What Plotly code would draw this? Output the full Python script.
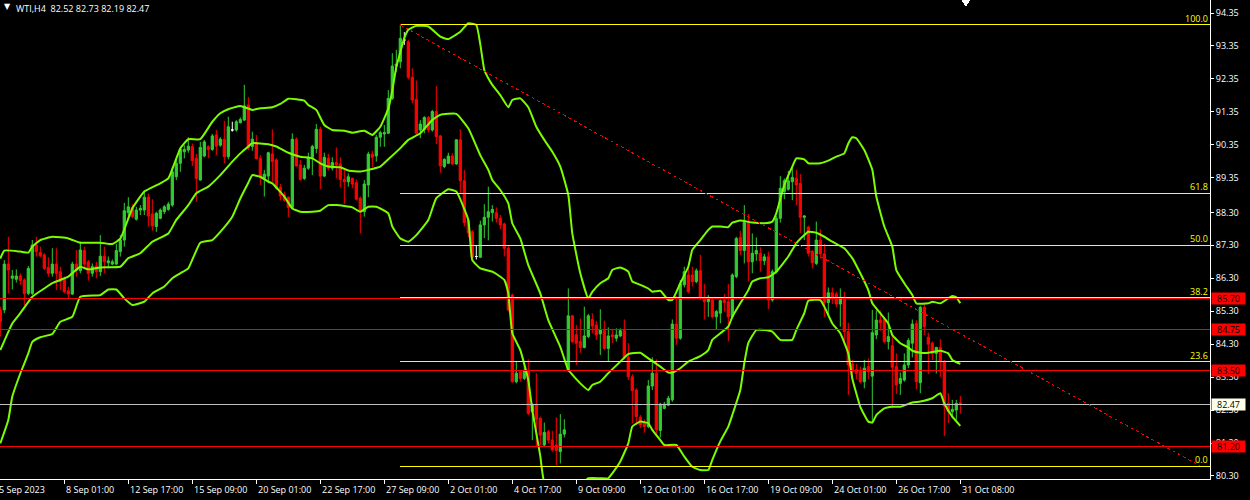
import plotly.graph_objects as go

# ---------------- data ----------------
symbol_title = "WTI,H4  82.52 82.73 82.19 82.47"

opens = [85.34, 85.34, 86.73, 86.30, 86.27, 86.37, 86.25, 85.84, 85.84, 87.31,
         87.08, 87.01, 86.63, 86.45, 86.73, 86.50, 86.30, 85.92, 85.82, 86.73,
         86.53, 87.14, 86.80, 86.45, 86.67, 86.50, 86.97, 86.77, 86.73, 86.73,
         87.11, 87.46, 88.29, 88.45, 88.09, 88.37, 88.37, 88.76, 88.25, 87.87,
         88.12, 88.32, 88.39, 88.52, 89.38, 89.79, 90.14, 90.19, 90.29, 89.94,
         89.28, 90.01, 90.29, 90.21, 90.65, 90.34, 90.52, 89.99, 90.80, 90.80,
         91.02, 91.10, 91.56, 90.30, 90.42, 89.94, 89.33, 89.40, 90.07, 89.89,
         89.06, 88.83, 88.76, 88.45, 90.52, 89.74, 89.33, 89.64, 89.97, 90.24,
         90.82, 89.40, 89.94, 89.64, 89.81, 89.77, 89.30, 89.23, 89.33, 89.20,
         88.73, 88.32, 89.13, 90.07, 90.01, 90.58, 90.68, 90.70, 91.76, 92.74,
         92.87, 93.53, 93.48, 92.40, 91.73, 90.80, 90.82, 91.18, 90.80, 91.36,
         90.62, 89.69, 89.79, 90.01, 89.77, 90.50, 89.26, 88.05, 87.71, 86.96,
         86.94, 87.92, 88.15, 88.29, 88.29, 88.12, 87.95, 87.21, 85.79, 83.16,
         83.46, 83.26, 83.50, 82.25, 82.48, 82.05, 81.24, 81.64, 81.39, 81.24,
         81.04, 81.57, 83.50, 85.16, 84.58, 84.38, 84.20, 84.53, 85.05, 84.88,
         84.61, 84.71, 84.17, 84.58, 84.48, 84.55, 84.71, 83.90, 83.31, 82.91,
         82.08, 81.92, 81.80, 83.03, 83.42, 81.68, 82.35, 82.45, 82.61, 84.91,
         84.48, 86.10, 86.40, 86.40, 86.20, 86.53, 85.69, 85.59, 85.64, 85.13,
         85.24, 85.64, 85.59, 85.13, 86.35, 87.54, 87.14, 87.97, 86.80, 87.04,
         87.06, 86.83, 86.95, 85.64, 86.50, 88.12, 88.93, 89.00, 89.23, 89.33,
         89.18, 88.15, 87.85, 87.11, 86.75, 87.46, 87.04, 85.56, 85.86, 85.82,
         85.52, 85.72, 84.68, 83.70, 83.52, 83.47, 83.16, 83.62, 83.33, 84.58,
         85.03, 85.05, 84.38, 84.25, 83.62, 83.11, 83.21, 83.67, 84.33, 84.93,
         83.13, 85.42, 84.51, 84.33, 84.02, 84.20, 83.77, 82.50, 82.25, 82.30,
         82.52]
highs = [85.44, 86.85, 87.56, 86.55, 86.57, 86.45, 86.30, 86.67, 87.46, 87.56,
         87.26, 87.06, 86.94, 87.21, 87.21, 86.65, 86.35, 86.04, 86.80, 87.16,
         87.41, 87.26, 86.85, 86.75, 86.80, 87.61, 87.26, 86.96, 86.87, 87.34,
         87.61, 88.59, 88.76, 88.55, 88.47, 88.52, 88.96, 88.88, 88.70, 88.32,
         88.42, 88.52, 88.62, 89.69, 89.94, 90.27, 90.34, 90.58, 90.39, 90.07,
         90.44, 90.50, 90.34, 90.68, 90.80, 90.58, 91.08, 91.20, 91.05, 91.10,
         91.18, 92.17, 91.80, 90.75, 90.65, 90.04, 89.59, 90.14, 90.82, 89.94,
         89.16, 88.93, 88.78, 90.70, 90.58, 89.89, 89.74, 90.11, 90.35, 90.98,
         90.90, 90.11, 90.07, 89.97, 90.27, 89.97, 89.64, 89.48, 89.36, 89.30,
         88.78, 89.28, 90.14, 90.17, 90.65, 90.78, 90.95, 92.01, 93.13, 93.23,
         93.99, 93.77, 93.53, 92.67, 92.30, 91.10, 91.22, 91.22, 91.41, 92.13,
         90.65, 89.94, 90.11, 90.09, 90.52, 90.82, 89.59, 88.12, 87.76, 87.31,
         88.05, 88.55, 89.08, 88.52, 88.45, 88.22, 87.99, 87.31, 85.84, 83.77,
         83.52, 83.72, 83.84, 82.50, 83.42, 82.10, 81.92, 81.70, 81.67, 82.08,
         82.18, 82.02, 85.99, 85.19, 84.88, 85.08, 85.44, 85.22, 85.24, 85.01,
         85.36, 85.01, 84.81, 84.73, 84.78, 84.78, 85.05, 84.33, 83.39, 82.96,
         82.15, 82.02, 83.21, 83.90, 83.84, 82.52, 82.55, 82.73, 85.05, 85.76,
         86.25, 86.65, 86.65, 86.65, 86.60, 87.01, 86.13, 85.79, 85.66, 85.34,
         85.66, 85.82, 86.13, 86.45, 87.56, 87.74, 88.52, 88.25, 87.66, 87.54,
         87.24, 87.04, 87.11, 86.57, 88.19, 89.40, 89.33, 89.56, 89.67, 89.59,
         89.46, 88.22, 87.89, 87.16, 88.02, 87.79, 87.34, 86.02, 86.02, 85.89,
         85.99, 85.89, 84.95, 83.82, 83.70, 83.62, 83.82, 83.87, 85.34, 85.32,
         85.32, 85.11, 85.26, 84.58, 84.02, 83.44, 84.02, 84.48, 85.05, 85.03,
         85.46, 85.52, 84.65, 84.38, 84.22, 84.45, 83.82, 82.81, 82.61, 82.61,
         82.73]
lows = [84.53, 85.24, 85.84, 85.96, 86.17, 86.10, 85.49, 85.79, 85.79, 86.96,
        86.94, 86.55, 86.35, 86.35, 85.94, 85.94, 85.84, 85.69, 85.79, 86.35,
        86.45, 86.65, 86.23, 86.35, 86.30, 86.37, 86.45, 86.60, 86.70, 86.70,
        86.96, 87.26, 88.09, 88.12, 88.05, 88.22, 88.22, 87.87, 87.74, 87.71,
        88.09, 88.25, 88.35, 88.47, 89.28, 89.53, 89.94, 90.11, 89.71, 88.62,
        89.26, 89.97, 89.94, 90.17, 90.04, 90.29, 89.79, 89.91, 90.75, 90.75,
        91.00, 91.07, 90.19, 90.17, 89.91, 89.13, 88.78, 89.18, 89.23, 88.98,
        88.66, 88.62, 88.15, 88.39, 89.69, 89.26, 89.28, 89.59, 89.43, 90.09,
        89.00, 89.38, 89.57, 89.57, 89.33, 89.06, 88.55, 89.08, 89.03, 88.66,
        87.66, 88.17, 88.76, 89.67, 89.84, 90.29, 90.29, 90.68, 91.71, 92.57,
        92.67, 93.38, 92.34, 91.61, 90.65, 90.55, 90.70, 90.72, 90.75, 90.37,
        89.50, 89.64, 89.77, 89.74, 89.74, 88.88, 87.87, 87.54, 86.87, 86.87,
        86.91, 87.52, 87.45, 88.02, 87.99, 87.79, 86.96, 85.29, 83.13, 83.11,
        83.16, 83.21, 82.15, 81.39, 81.19, 81.24, 81.21, 81.29, 81.04, 80.63,
        80.68, 81.47, 83.46, 84.33, 83.67, 84.04, 84.17, 84.48, 84.63, 84.43,
        83.97, 84.12, 83.77, 84.33, 84.38, 84.51, 83.84, 83.21, 81.90, 81.85,
        81.75, 81.61, 81.75, 82.91, 81.50, 81.47, 82.32, 82.42, 82.55, 84.28,
        84.43, 86.02, 85.84, 86.05, 86.15, 85.64, 85.05, 85.13, 85.08, 84.75,
        84.93, 85.29, 84.38, 85.08, 86.30, 87.01, 86.75, 86.20, 86.45, 86.83,
        86.50, 86.70, 85.36, 85.59, 86.45, 87.99, 88.70, 88.96, 88.67, 88.52,
        87.68, 87.46, 86.96, 86.60, 86.70, 86.90, 85.13, 85.18, 85.52, 85.42,
        84.83, 84.27, 82.76, 83.33, 83.23, 83.11, 82.96, 83.23, 81.90, 84.45,
        84.71, 84.33, 84.14, 82.35, 82.79, 82.76, 83.16, 83.57, 83.90, 82.93,
        82.81, 84.58, 83.39, 83.82, 83.41, 83.31, 81.51, 81.90, 82.05, 82.00,
        82.19]
closes = [84.98, 86.73, 86.55, 86.37, 86.37, 86.23, 85.84, 86.60, 87.31, 87.11,
          86.98, 86.60, 86.45, 86.73, 86.45, 86.20, 85.89, 85.82, 86.73, 86.53,
          87.16, 86.73, 86.45, 86.65, 86.50, 86.97, 86.80, 86.83, 86.80, 87.14,
          87.46, 88.35, 88.47, 88.17, 88.37, 88.42, 88.76, 88.19, 87.89, 88.27,
          88.37, 88.47, 88.55, 89.53, 89.79, 90.21, 90.21, 90.31, 89.87, 89.33,
          90.27, 90.44, 90.21, 90.62, 90.31, 90.52, 89.99, 90.90, 90.80, 91.05,
          91.12, 91.53, 90.25, 90.52, 89.93, 89.38, 89.46, 90.11, 89.84, 89.03,
          88.80, 88.67, 88.45, 90.52, 89.71, 89.30, 89.64, 89.97, 90.30, 90.82,
          89.40, 89.97, 89.64, 89.81, 89.74, 89.30, 89.23, 89.38, 89.16, 88.70,
          88.32, 89.16, 90.07, 89.97, 90.58, 90.72, 90.72, 91.76, 92.74, 92.80,
          93.58, 93.53, 92.40, 91.71, 90.70, 90.98, 91.18, 90.80, 91.36, 90.60,
          89.71, 89.91, 90.01, 89.77, 90.50, 89.26, 87.99, 87.68, 86.94, 86.96,
          87.92, 88.15, 88.32, 88.39, 88.12, 87.92, 87.21, 85.34, 83.16, 83.42,
          83.26, 83.50, 82.20, 82.48, 82.02, 81.54, 81.62, 81.39, 81.09, 81.07,
          81.57, 81.70, 85.16, 84.38, 84.33, 84.20, 84.55, 85.16, 84.85, 84.58,
          84.73, 84.17, 84.55, 84.53, 84.58, 84.71, 83.90, 83.31, 82.89, 82.10,
          81.85, 81.80, 83.03, 83.42, 81.70, 82.48, 82.48, 82.66, 84.91, 84.48,
          86.13, 86.50, 85.89, 86.20, 86.53, 85.69, 85.59, 85.72, 85.13, 85.29,
          85.62, 85.56, 85.13, 86.40, 87.51, 87.14, 87.99, 86.80, 87.06, 87.14,
          86.83, 86.95, 85.64, 86.50, 88.12, 89.03, 89.26, 89.26, 89.36, 89.13,
          88.15, 88.19, 87.06, 86.77, 87.46, 87.04, 85.56, 85.86, 85.72, 85.52,
          85.72, 84.68, 83.67, 83.47, 83.42, 83.16, 83.57, 83.47, 84.65, 85.03,
          84.95, 84.38, 84.53, 83.60, 83.06, 83.26, 83.67, 84.41, 84.91, 83.16,
          85.42, 84.83, 84.30, 84.02, 84.20, 83.77, 82.42, 82.25, 82.32, 82.50,
          82.47]

# Bollinger-style envelope, read at sampled bars
upper_bar = [0, 1, 5, 7, 8, 10, 13, 17, 20, 25, 28, 30, 33, 36, 40, 42, 45, 47, 50, 53,
             55, 57, 60, 63, 65, 68, 70, 72, 76, 77, 79, 81, 83, 86, 88, 91, 93, 95, 97, 98,
             99, 101, 102, 104, 107, 110, 112, 115, 117, 119, 120, 121, 122, 123, 125, 127, 128, 130, 132, 134,
             136, 138, 140, 142, 143, 145, 147, 148, 150, 152, 153, 155, 157, 158, 160, 162, 163, 165, 167, 168,
             170, 172, 173, 175, 177, 178, 180, 182, 183, 185, 188, 191, 193, 194, 196, 198, 199, 201, 202, 205,
             207, 209, 211, 212, 213, 214, 216, 218, 219, 221, 223, 224, 226, 228, 229, 232, 233, 235, 238, 239,
             240]
upper_val = [86.90, 87.14, 87.11, 87.08, 87.26, 87.46, 87.56, 87.51, 87.38, 87.38, 87.34, 87.50, 88.42, 88.93, 89.18, 89.33, 90.24, 90.52, 90.52, 91.05,
             91.31, 91.43, 91.53, 91.41, 91.46, 91.49, 91.59, 91.75, 91.69, 91.56, 91.41, 90.95, 90.80, 90.78, 90.72, 90.78, 90.65, 90.90, 91.45, 92.00,
             92.71, 93.59, 93.84, 93.96, 93.94, 93.63, 93.56, 93.78, 94.04, 93.99, 93.40, 92.62, 92.37, 92.17, 91.86, 91.49, 91.71, 91.76, 91.49, 90.90,
             90.50, 90.14, 89.69, 88.83, 87.66, 86.45, 85.69, 85.89, 86.15, 86.30, 86.55, 86.63, 86.50, 86.20, 86.10, 85.99, 85.89, 85.92, 85.64, 85.64,
             86.15, 86.65, 87.16, 87.46, 87.77, 87.87, 87.87, 87.85, 87.99, 88.05, 87.99, 87.97, 88.02, 88.27, 89.13, 89.69, 89.94, 89.91, 89.79, 89.79,
             89.87, 89.99, 90.09, 90.39, 90.58, 90.55, 90.19, 89.59, 88.78, 87.87, 87.26, 86.55, 86.15, 85.79, 85.54, 85.54, 85.59, 85.54, 85.76, 85.72,
             85.54]

middle_bar = [0, 3, 5, 8, 11, 13, 17, 20, 22, 25, 30, 32, 35, 38, 42, 44, 47, 49, 52, 55,
              58, 60, 62, 63, 67, 69, 72, 75, 78, 80, 82, 85, 87, 90, 92, 95, 97, 100, 102, 105,
              108, 110, 114, 117, 120, 122, 123, 125, 127, 128, 130, 132, 135, 137, 140, 142, 145, 147, 148, 150,
              152, 155, 157, 160, 162, 165, 167, 168, 170, 172, 175, 177, 178, 180, 182, 183, 185, 187, 188, 190,
              192, 194, 197, 199, 201, 202, 204, 206, 208, 211, 213, 215, 217, 218, 220, 222, 223, 225, 227, 228,
              230, 232, 235, 237, 238, 240]
middle_val = [84.12, 84.93, 85.24, 85.74, 85.99, 86.15, 86.35, 86.65, 86.57, 86.63, 86.65, 86.91, 87.06, 87.41, 87.66, 88.07, 88.52, 88.88, 89.08, 89.43,
              89.84, 90.09, 90.30, 90.40, 90.37, 90.30, 90.11, 89.99, 89.94, 89.79, 89.69, 89.67, 89.57, 89.54, 89.59, 89.69, 89.91, 90.25, 90.50, 90.70,
              91.10, 91.26, 91.29, 90.85, 90.03, 89.59, 89.28, 88.98, 88.57, 87.97, 87.51, 86.70, 85.84, 85.03, 84.22, 83.52, 83.11, 82.91, 83.06, 83.16,
              83.42, 83.77, 84.00, 84.04, 83.87, 83.62, 83.44, 83.44, 83.57, 83.77, 83.94, 84.12, 84.43, 84.63, 84.83, 85.13, 85.54, 85.94, 86.20, 86.30,
              86.33, 86.50, 86.96, 87.36, 87.61, 87.71, 87.68, 87.56, 87.41, 87.21, 86.91, 86.45, 85.94, 85.54, 85.24, 84.93, 84.58, 84.33, 84.20, 84.10,
              84.04, 84.04, 84.10, 84.02, 83.82, 83.70]

lower_bar = [0, 2, 3, 5, 7, 8, 10, 13, 15, 18, 20, 25, 27, 29, 31, 33, 36, 38, 41, 43,
             45, 47, 50, 53, 55, 58, 60, 62, 63, 65, 67, 68, 71, 73, 75, 78, 80, 82, 84, 88,
             90, 92, 94, 97, 98, 100, 102, 104, 107, 109, 112, 114, 117, 118, 120, 123, 126, 127, 128, 130,
             132, 133, 134, 135, 136, 139, 142, 145, 147, 150, 152, 153, 155, 157, 158, 160, 162, 163, 165, 166,
             169, 171, 173, 175, 177, 178, 180, 182, 183, 185, 186, 187, 189, 191, 193, 195, 198, 199, 201, 202,
             205, 206, 208, 210, 212, 213, 215, 217, 218, 219, 221, 223, 225, 228, 230, 233, 235, 236, 238, 240]
lower_val = [81.29, 82.00, 82.71, 83.41, 84.02, 84.37, 84.51, 84.61, 84.98, 85.13, 85.74, 85.79, 85.96, 85.96, 85.69, 85.49, 85.59, 85.84, 86.05, 86.30,
             86.45, 86.60, 87.38, 87.46, 87.71, 88.17, 88.72, 89.20, 89.43, 89.38, 89.23, 89.18, 88.78, 88.42, 88.32, 88.32, 88.35, 88.52, 88.52, 88.45,
             88.32, 88.47, 88.47, 88.27, 87.87, 87.51, 87.41, 87.61, 88.07, 88.73, 89.00, 88.93, 88.07, 86.85, 86.60, 86.50, 86.25, 85.84, 84.63, 84.12,
             83.21, 82.30, 81.60, 80.90, 80.10, 79.80, 79.75, 80.00, 80.23, 80.23, 80.23, 80.38, 80.74, 81.29, 81.80, 81.95, 81.90, 81.70, 81.39, 81.24,
             81.24, 80.89, 80.58, 80.48, 80.48, 80.79, 81.35, 81.80, 82.15, 82.91, 83.72, 84.33, 84.73, 84.73, 84.68, 84.43, 84.43, 84.73, 85.24, 85.62,
             85.64, 85.44, 84.93, 84.63, 84.02, 83.26, 82.40, 81.95, 81.92, 82.15, 82.35, 82.40, 82.40, 82.53, 82.56, 82.66, 82.81, 82.50, 82.10, 81.82]

# Fibonacci retracement (swing high -> swing low)
fib_high = 93.99
fib_low = 80.60
fib_start_bar = 100
fib_end_bar = 300
fib_levels = [0.0, 23.6, 38.2, 50.0, 61.8, 100.0]

# horizontal levels
red_levels = [85.70, 84.75, 83.50, 81.20]
bid_price = 82.47

price_ticks = [94.35, 93.35, 92.35, 91.35, 90.35, 89.35, 88.30, 87.30, 86.30,
               85.30, 84.30, 83.30, 82.30, 81.30, 80.30]
time_tick_bars = [16, 32, 48, 64, 80, 96, 112, 128, 144, 160, 176, 192, 208, 224, 240]
time_tick_text = ["8 Sep 01:00", "12 Sep 17:00", "15 Sep 09:00", "20 Sep 01:00",
                  "22 Sep 17:00", "27 Sep 09:00", "2 Oct 01:00", "4 Oct 17:00",
                  "9 Oct 09:00", "12 Oct 01:00", "16 Oct 17:00", "19 Oct 09:00",
                  "24 Oct 01:00", "26 Oct 17:00", "31 Oct 08:00"]
first_date_label = "5 Sep 2023"

# ---------------- styling ----------------
BG = "#000000"
FG = "#ffffff"
UP = "#32cd32"
DOWN = "#ff0000"
BAND = "#7cfc00"
FIB = "#ffff00"
FONT = "Open Sans"
FS = 9

X_MIN, X_MAX = -0.075, 302.425
Y_MIN, Y_MAX = 80.208, 94.745

bars = list(range(len(opens)))
doji = [i for i in bars if opens[i] == closes[i]]
normal = [i for i in bars if opens[i] != closes[i]]

fig = go.Figure()

for bx, bv in [(upper_bar, upper_val), (middle_bar, middle_val), (lower_bar, lower_val)]:
    fig.add_trace(go.Scatter(x=bx, y=bv, mode="lines",
                             line=dict(color=BAND, width=2, shape="spline", smoothing=0.4),
                             hoverinfo="skip", showlegend=False))

fig.add_trace(go.Candlestick(
    x=[bars[i] for i in normal],
    open=[opens[i] for i in normal], high=[highs[i] for i in normal],
    low=[lows[i] for i in normal], close=[closes[i] for i in normal],
    increasing=dict(line=dict(color=UP, width=1), fillcolor=UP),
    decreasing=dict(line=dict(color=DOWN, width=1), fillcolor=DOWN),
    whiskerwidth=0, showlegend=False, hoverinfo="skip"))
fig.add_trace(go.Candlestick(
    x=[bars[i] for i in doji],
    open=[opens[i] for i in doji], high=[highs[i] for i in doji],
    low=[lows[i] for i in doji], close=[closes[i] for i in doji],
    increasing=dict(line=dict(color=FG, width=1), fillcolor=FG),
    decreasing=dict(line=dict(color=FG, width=1), fillcolor=FG),
    whiskerwidth=0, showlegend=False, hoverinfo="skip"))

shapes = []
for lv in red_levels:
    shapes.append(dict(type="line", xref="paper", yref="y", x0=0, x1=1, y0=lv, y1=lv,
                       line=dict(color=DOWN, width=1)))
shapes.append(dict(type="line", xref="paper", yref="y", x0=0, x1=1, y0=bid_price, y1=bid_price,
                   line=dict(color="#c0c0c0", width=1)))
for lvl in fib_levels:
    p = fib_low + (fib_high - fib_low) * lvl / 100.0
    shapes.append(dict(type="line", xref="x", yref="y", x0=fib_start_bar, x1=X_MAX, y0=p, y1=p,
                       line=dict(color=FIB, width=1)))
shapes.append(dict(type="line", xref="x", yref="y", x0=fib_start_bar, x1=fib_end_bar,
                   y0=fib_high, y1=fib_low, line=dict(color=DOWN, width=1, dash="dot")))
# chart-shift marker (small white triangle at the top edge, right of the last bar)
last_bar = bars[-1]
shapes.append(dict(type="path", xref="x", yref="paper",
                   path=f"M {last_bar + 0.4} 1 L {last_bar + 2.4} 1 L {last_bar + 1.4} 0.988 Z",
                   fillcolor=FG, line=dict(color=FG, width=1)))

annotations = []
for lvl in fib_levels:
    p = fib_low + (fib_high - fib_low) * lvl / 100.0
    annotations.append(dict(xref="paper", yref="y", x=1, y=p, xanchor="right", yanchor="bottom",
                            xshift=-1, yshift=-1, text=f"{lvl:.1f}", showarrow=False,
                            font=dict(family=FONT, size=FS, color=FIB), borderpad=0))
for lv in red_levels:
    annotations.append(dict(xref="paper", yref="y", x=1, y=lv, xanchor="left", yanchor="middle",
                            xshift=1, text=f"{lv:.2f}", showarrow=False, bgcolor=DOWN,
                            width=33, height=11, align="center", borderpad=0,
                            font=dict(family=FONT, size=FS, color="#000000")))
annotations.append(dict(xref="paper", yref="y", x=1, y=bid_price, xanchor="left", yanchor="middle",
                        xshift=1, text=f"{bid_price:.2f}", showarrow=False, bgcolor="#ffffe8",
                        width=33, height=11, align="center", borderpad=0,
                        font=dict(family=FONT, size=FS, color="#000000")))
for b, t in zip(time_tick_bars, time_tick_text):
    annotations.append(dict(xref="x", yref="paper", x=b, y=0, xanchor="left", yanchor="top",
                            xshift=0, yshift=-2, text=t, showarrow=False,
                            font=dict(family=FONT, size=FS, color=FG)))
annotations.append(dict(xref="paper", yref="paper", x=0, y=0, xanchor="left", yanchor="top",
                        xshift=-3, yshift=-2, text=first_date_label, showarrow=False,
                        font=dict(family=FONT, size=FS, color=FG)))
annotations.append(dict(xref="paper", yref="paper", x=0, y=1, xanchor="left", yanchor="top",
                        xshift=2, yshift=0, text="▼", showarrow=False,
                        font=dict(family="DejaVu Sans", size=8, color=FG)))
annotations.append(dict(xref="paper", yref="paper", x=0, y=1, xanchor="left", yanchor="top",
                        xshift=14, yshift=0, text=symbol_title, showarrow=False,
                        font=dict(family=FONT, size=FS, color=FG)))

fig.update_layout(
    width=1250, height=500,
    margin=dict(l=0, r=40, t=0, b=21, autoexpand=False),
    paper_bgcolor=BG, plot_bgcolor=BG,
    showlegend=False, boxgap=0.25, boxgroupgap=0.25,
    shapes=shapes, annotations=annotations,
    xaxis=dict(range=[X_MIN, X_MAX], rangeslider=dict(visible=False), showgrid=False,
               zeroline=False, showline=True, linecolor=FG, linewidth=1,
               tickmode="array", tickvals=time_tick_bars, ticktext=[""] * len(time_tick_bars),
               ticks="outside", ticklen=4, tickcolor=FG, tickwidth=1, automargin=False),
    yaxis=dict(range=[Y_MIN, Y_MAX], side="right", showgrid=False, zeroline=False,
               showline=True, linecolor=FG, linewidth=1, automargin=False,
               tickmode="array", tickvals=price_ticks, ticktext=[f"{v:.2f}" for v in price_ticks],
               ticks="outside", ticklen=3, tickcolor=FG, tickwidth=1,
               tickfont=dict(family=FONT, size=FS, color=FG)),
)

post = (
    "document.body.style.margin='0px';document.body.style.background='#000';"
    "document.querySelectorAll('.shapelayer path').forEach(function(p){p.style.shapeRendering='crispEdges';});"
)
fig.write_html("out.html", config={"displayModeBar": False, "staticPlot": True}, post_script=post)
